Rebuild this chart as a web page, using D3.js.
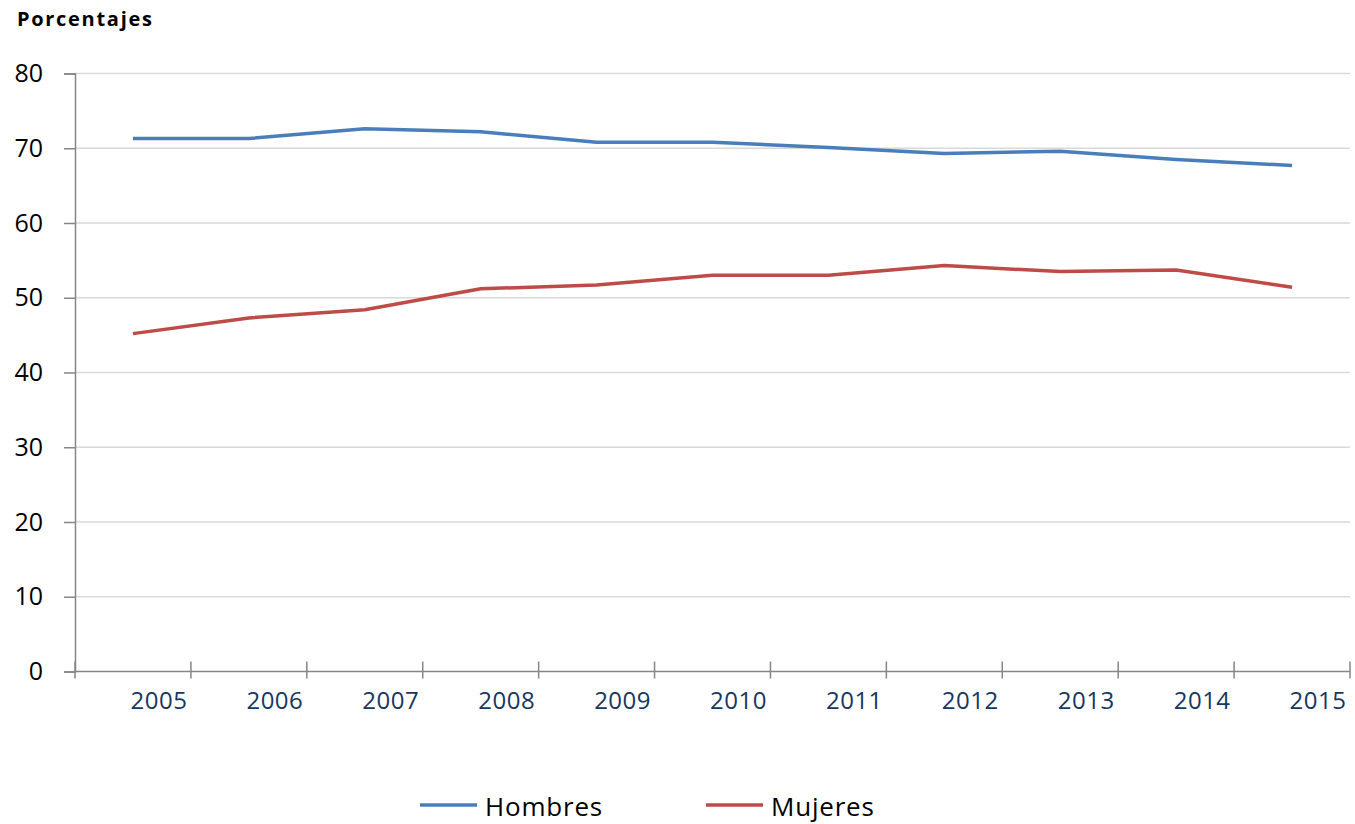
<!DOCTYPE html>
<html>
<head>
<meta charset="utf-8">
<script src="https://cdn.jsdelivr.net/npm/d3@7"></script>
<style>
  body { margin: 0; background: #fff; }
  text { font-family: "Open Sans", sans-serif; }
</style>
</head>
<body>
<div id="chart"></div>
<script>
// Data
const years = ["2005", "2006", "2007", "2008", "2009", "2010", "2011", "2012", "2013", "2014", "2015"];
const hombres = [71.3, 71.3, 72.6, 72.2, 70.8, 70.8, 70.1, 69.3, 69.6, 68.5, 67.7];
const mujeres = [45.2, 47.3, 48.4, 51.2, 51.7, 53.0, 53.0, 54.3, 53.5, 53.7, 51.4];
const yTicks = [0, 10, 20, 30, 40, 50, 60, 70, 80];

const width = 1355;
const height = 824;
const margin = { top: 73.5, right: 5, bottom: 152.5, left: 75 };

const svg = d3.select("#chart")
  .append("svg")
  .attr("width", width)
  .attr("height", height);

const x = d3.scaleBand()
  .domain(years)
  .range([margin.left, width - margin.right]);

const y = d3.scaleLinear()
  .domain([0, 80])
  .range([height - margin.bottom, margin.top]);

// Gridlines
svg.append("g")
  .selectAll("line")
  .data(yTicks.filter(d => d > 0))
  .enter()
  .append("line")
  .attr("x1", margin.left)
  .attr("x2", width - margin.right)
  .attr("y1", d => y(d))
  .attr("y2", d => y(d))
  .attr("stroke", "#d9d9d9")
  .attr("stroke-width", 1.5);

// Y axis
const yAxis = svg.append("g")
  .attr("transform", `translate(${margin.left},0)`)
  .call(d3.axisLeft(y).tickValues(yTicks).tickSize(11).tickPadding(21));
yAxis.select(".domain").attr("stroke", "#868686").attr("stroke-width", 1.5);
yAxis.selectAll(".tick line").attr("stroke", "#868686").attr("stroke-width", 1.5);
yAxis.selectAll("text")
  .attr("font-size", 25)
  .attr("fill", "#000")
  .style("font-family", "'Open Sans', sans-serif");

// X axis: boundary ticks crossing the axis
const xAxisG = svg.append("g");
xAxisG.append("line")
  .attr("x1", margin.left)
  .attr("x2", width - margin.right)
  .attr("y1", y(0))
  .attr("y2", y(0))
  .attr("stroke", "#868686")
  .attr("stroke-width", 1.5);
const bounds = years.map(d => x(d)).concat([x(years[years.length - 1]) + x.bandwidth()]);
xAxisG.selectAll(".xtick")
  .data(bounds)
  .enter()
  .append("line")
  .attr("x1", d => d)
  .attr("x2", d => d)
  .attr("y1", y(0) - 10)
  .attr("y2", y(0) + 7)
  .attr("stroke", "#868686")
  .attr("stroke-width", 1.5);
// labels sit a bit right of the band centre, as in the reference
xAxisG.selectAll(".xlabel")
  .data(years)
  .enter()
  .append("text")
  .attr("x", d => x(d) + x.bandwidth() / 2 + 26)
  .attr("y", y(0) + 37)
  .attr("text-anchor", "middle")
  .attr("font-size", 24)
  .attr("letter-spacing", 0.5)
  .attr("fill", "#17375e")
  .text(d => d);

// Lines
const line = d3.line()
  .x((d, i) => x(years[i]) + x.bandwidth() / 2)
  .y(d => y(d));

svg.append("path")
  .datum(hombres)
  .attr("fill", "none")
  .attr("stroke", "#4a7ebb")
  .attr("stroke-width", 3.5)
  .attr("stroke-linejoin", "round")
  .attr("d", line);

svg.append("path")
  .datum(mujeres)
  .attr("fill", "none")
  .attr("stroke", "#be4b48")
  .attr("stroke-width", 3.5)
  .attr("stroke-linejoin", "round")
  .attr("d", line);

// Title
svg.append("text")
  .attr("x", 17)
  .attr("y", 26)
  .attr("font-size", 20)
  .attr("font-weight", "bold")
  .attr("letter-spacing", 1.7)
  .attr("fill", "#000")
  .text("Porcentajes");

// Legend
const legend = [
  { name: "Hombres", color: "#4a7ebb", x: 420 },
  { name: "Mujeres", color: "#be4b48", x: 706 }
];
const lg = svg.append("g");
lg.selectAll("line")
  .data(legend)
  .enter()
  .append("line")
  .attr("x1", d => d.x)
  .attr("x2", d => d.x + 57)
  .attr("y1", 805)
  .attr("y2", 805)
  .attr("stroke", d => d.color)
  .attr("stroke-width", 3.5);
lg.selectAll("text")
  .data(legend)
  .enter()
  .append("text")
  .attr("x", d => d.x + 65)
  .attr("y", 816)
  .attr("font-size", 26)
  .attr("letter-spacing", 0.8)
  .attr("fill", "#000")
  .text(d => d.name);
</script>
</body>
</html>
